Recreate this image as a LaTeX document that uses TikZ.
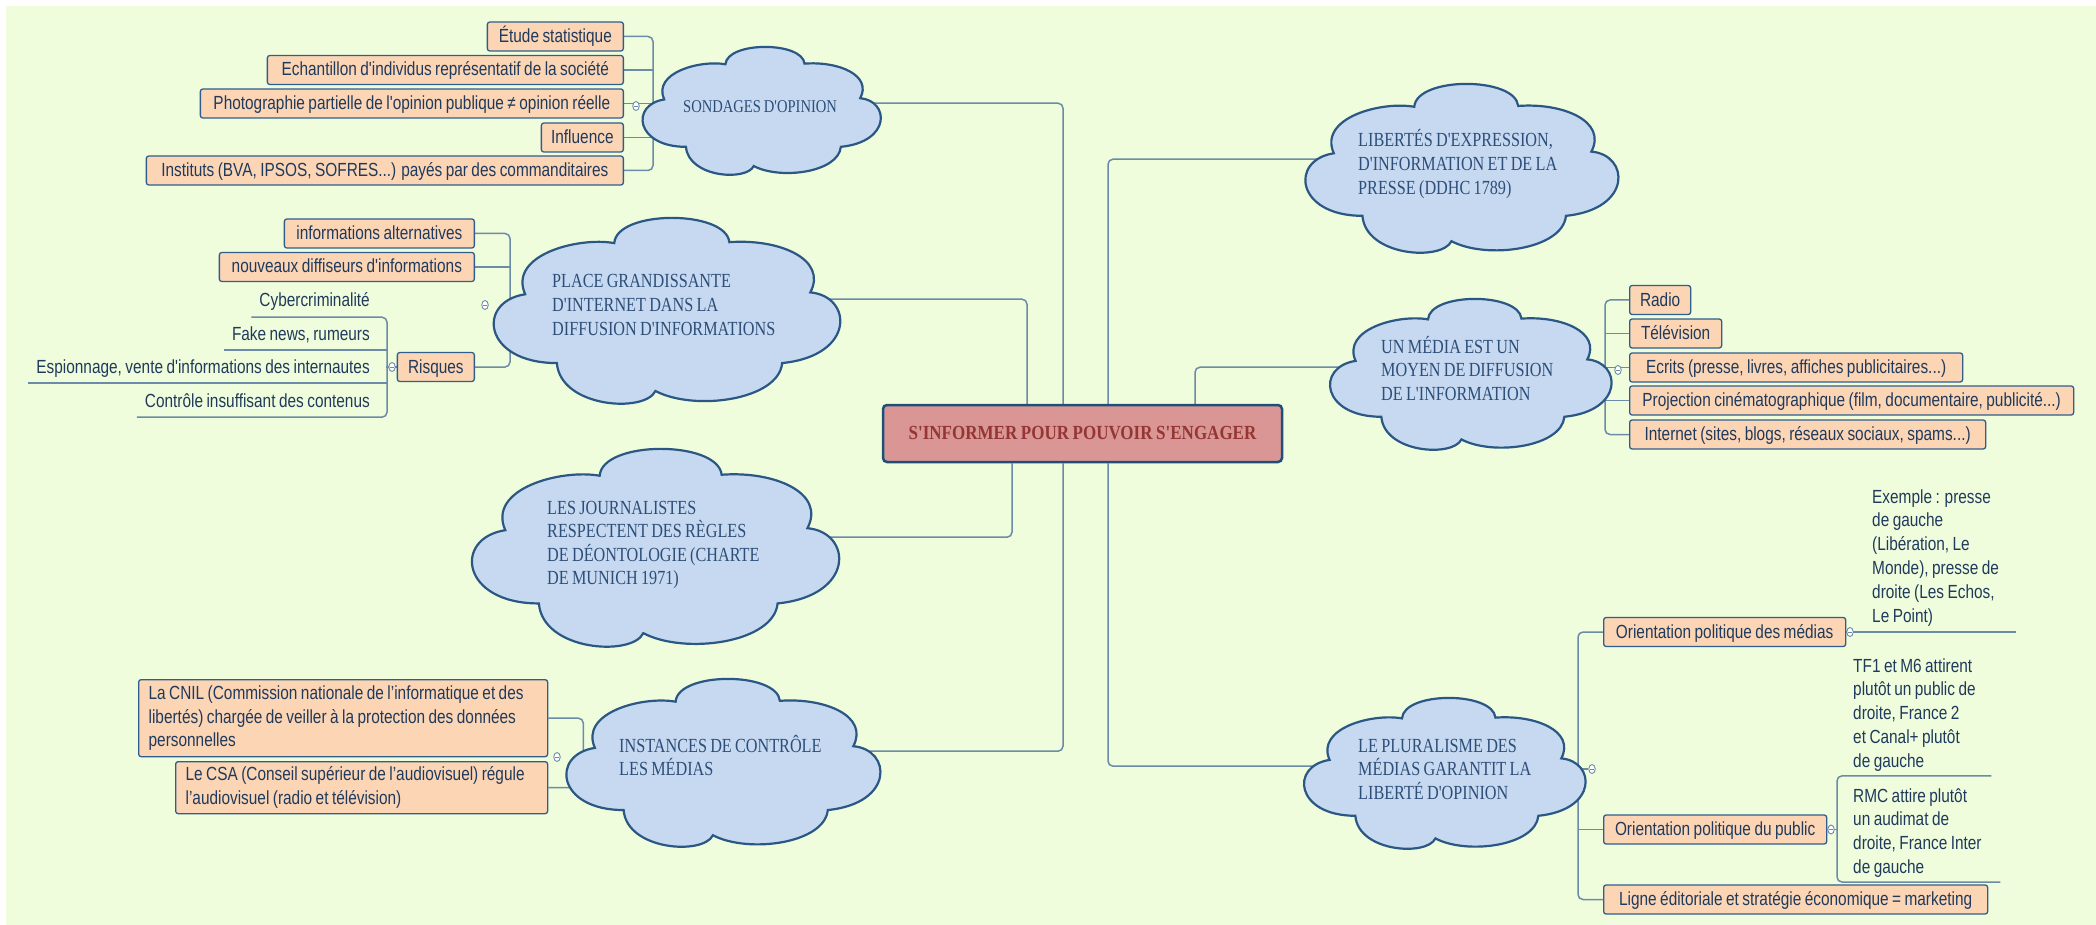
\documentclass[tikz,border=0pt]{standalone}
\usepackage{fontspec}
\usetikzlibrary{shapes.geometric,calc}
\newfontfamily\sansf[FakeStretch=0.81,WordSpace=0.81,Ligatures=TeXOff]{Liberation Sans}
\newfontfamily\serff[FakeStretch=0.81,WordSpace=0.81,Ligatures=TeXOff]{Liberation Serif}
\newfontfamily\serfc[FakeStretch=0.85,WordSpace=0.85,Ligatures=TeXOff]{Liberation Serif}
\pgfdeclarelayer{back}\pgfdeclarelayer{conn}\pgfdeclarelayer{cloudl}
\pgfsetlayers{back,conn,cloudl,main}
\definecolor{bgc}{HTML}{F0FDDC}
\definecolor{cloudfill}{HTML}{C6D9F1}
\definecolor{cloudline}{HTML}{2A5783}
\definecolor{leaffill}{HTML}{FCD5B5}
\definecolor{leafline}{HTML}{2F5E8C}
\definecolor{txt}{HTML}{1F3A5C}
\definecolor{ctxt}{HTML}{2D4E78}
\definecolor{mainfill}{HTML}{D99694}
\definecolor{mainline}{HTML}{1F4E79}
\definecolor{maintxt}{HTML}{943634}
\definecolor{connc}{HTML}{6B8BA8}
\tikzset{
 leaf/.style={rectangle, rounded corners=2.5pt, draw=leafline, line width=1.3pt, fill=leaffill, text=txt,
   font=\sansf\fontsize{19}{23.6}\selectfont, inner xsep=6pt, inner ysep=0pt, minimum height=29pt},
 leaf1/.style={leaf, text height=14pt, text depth=2pt},
 sub/.style={text=txt, font=\sansf\fontsize{19}{23.6}\selectfont, inner xsep=8pt, inner ysep=6pt, text height=14pt, text depth=4pt},
 note/.style={text=txt, font=\sansf\fontsize{19}{23.8}\selectfont, inner xsep=0pt, inner ysep=4.5pt, align=flush left},
 ctext/.style={text=ctxt, font=\serff\fontsize{20}{23.6}\selectfont, inner sep=0pt, align=flush left, text width=260pt},
 cbox/.style={rectangle, inner sep=0pt},
 cloudsty/.style={fill=cloudfill, draw=cloudline, line width=2.2pt},
 mainbox/.style={rectangle, rounded corners=4pt, fill=mainfill, draw=mainline, line width=2.5pt,
   minimum width=399pt, minimum height=57pt, text=maintxt, font=\serfc\bfseries\fontsize{20}{24}\selectfont},
 conn/.style={draw=connc, line width=1.5pt, rounded corners=5pt},
 coll/.style={ellipse, draw=connc, fill=white, line width=0.9pt, minimum width=6.5pt, minimum height=9pt, inner sep=0pt,
   path picture={\draw[connc, line width=0.7pt] ([xshift=-1.8pt]path picture bounding box.center) -- ([xshift=1.8pt]path picture bounding box.center);}}
}
\newcommand\mmcloud[5]{%
  \node[cbox, minimum width=#4pt, minimum height=#5pt, anchor=north west] (#1) at (#2,#3) {};
  \begin{pgfonlayer}{cloudl}
    \begin{scope}[shift={(#2,#3)}, xscale=#4, yscale=#5]
      \path[cloudsty] (0.353,0.135) .. controls (0.36,-0.045) and (0.67,-0.045) .. (0.68,0.13)
        .. controls (0.82,0.11) and (0.96,0.22) .. (0.91,0.40)
        .. controls (1.03,0.42) and (1.04,0.74) .. (0.83,0.78)
        .. controls (0.82,0.98) and (0.58,1.04) .. (0.47,0.93)
        .. controls (0.44,1.05) and (0.20,1.02) .. (0.19,0.78)
        .. controls (-0.02,0.78) and (-0.04,0.45) .. (0.10,0.41)
        .. controls (0.05,0.20) and (0.25,0.10) .. (0.353,0.135) -- cycle;
    \end{scope}
  \end{pgfonlayer}}
\begin{document}
\hyphenpenalty=10000 \exhyphenpenalty=10000
\begin{tikzpicture}[x=1pt,y=-1pt]
\useasboundingbox (0,0) rectangle (2096,925);
\begin{pgfonlayer}{back}
\fill[white] (0,0) rectangle (2096,925);
\fill[bgc] (6,6) rectangle (2096,925);
\end{pgfonlayer}

% clouds
\mmcloud{sondc}{640}{47}{242}{128}
\mmcloud{placec}{490}{218}{352}{186}
\mmcloud{journc}{468}{449}{373}{198}
\mmcloud{instc}{563}{679}{319}{168}
\mmcloud{libc}{1302}{84}{318}{169}
\mmcloud{mediac}{1327}{299}{286}{151}
\mmcloud{plurc}{1301}{698}{286}{151}

% central topic
\node[mainbox] (main) at (1082.5,433.5) {S'INFORMER POUR POUVOIR S'ENGAGER};

% cloud texts
\node[ctext, font=\serff\fontsize{18}{23.6}\selectfont, anchor=base west] (sondt) at (683,113) {SONDAGES D'OPINION};
\node[ctext, anchor=base west] (placet) at (552,288) {PLACE GRANDISSANTE\\D'INTERNET DANS LA\\DIFFUSION D'INFORMATIONS};
\node[ctext, anchor=base west] (journt) at (547,514) {LES JOURNALISTES\\RESPECTENT DES RÈGLES\\DE DÉONTOLOGIE (CHARTE\\DE MUNICH 1971)};
\node[ctext, anchor=base west] (instt) at (619,752) {INSTANCES DE CONTRÔLE\\LES MÉDIAS};
\node[ctext, anchor=base west] (libt) at (1358,147) {LIBERTÉS D'EXPRESSION,\\D'INFORMATION ET DE LA\\PRESSE (DDHC 1789)};
\node[ctext, anchor=base west] (mediat) at (1381,353) {UN MÉDIA EST UN\\MOYEN DE DIFFUSION\\DE L'INFORMATION};
\node[ctext, anchor=base west] (plurt) at (1358,752) {LE PLURALISME DES\\MÉDIAS GARANTIT LA\\LIBERTÉ D'OPINION};

% SONDAGES children
\node[leaf1, minimum width=136, anchor=east] (etude) at (624,36.5) {Étude statistique};
\node[leaf1, minimum width=356, anchor=east] (echant) at (624,70) {Echantillon d'individus représentatif de la société};
\node[leaf1, minimum width=423, anchor=east] (photo) at (624,103.5) {Photographie partielle de l'opinion publique ≠ opinion réelle};
\node[leaf1, minimum width=82, anchor=east] (influ) at (624,137.5) {Influence};
\node[leaf1, minimum width=477, anchor=east] (instit) at (624,170.5) {Instituts (BVA, IPSOS, SOFRES...) payés par des commanditaires};

% PLACE children
\node[leaf1, minimum width=190, anchor=east] (infalt) at (475,233.5) {informations alternatives};
\node[leaf1, minimum width=255, anchor=east] (nouv) at (475,267) {nouveaux diffiseurs d'informations};
\node[leaf1, minimum width=77, anchor=east] (risq) at (475,367) {Risques};
\node[sub, anchor=base east] (cyb) at (378,307) {Cybercriminalité};
\node[sub, anchor=base east] (fake) at (378,340) {Fake news, rumeurs};
\node[sub, anchor=base east] (esp) at (378,373) {Espionnage, vente d'informations des internautes};
\node[sub, anchor=base east] (cont) at (378,407) {Contrôle insuffisant des contenus};

% INSTANCES children
\node[leaf, text width=389, align=flush left, inner xsep=10pt, minimum height=77, anchor=north west] (cnil) at (138,679)
  {La CNIL (Commission nationale de l’informatique et des\\libertés) chargée de veiller à la protection des données\\personnelles};
\node[leaf, text width=352, align=flush left, inner xsep=10pt, minimum height=52, anchor=north west] (csa) at (175,761)
  {Le CSA (Conseil supérieur de l’audiovisuel) régule\\l’audiovisuel (radio et télévision)};

% MEDIA children
\node[leaf1, minimum width=61, anchor=west] (radio) at (1629,300) {Radio};
\node[leaf1, minimum width=92, anchor=west] (tele) at (1629,333.5) {Télévision};
\node[leaf1, minimum width=333, anchor=west] (ecrits) at (1629,367.5) {Ecrits (presse, livres, affiches publicitaires...)};
\node[leaf1, minimum width=444, anchor=west] (proj) at (1629,400.5) {Projection cinématographique (film, documentaire, publicité...)};
\node[leaf1, minimum width=356, anchor=west] (inter) at (1629,434.5) {Internet (sites, blogs, réseaux sociaux, spams...)};

% PLURALISME children
\node[leaf1, minimum width=242, anchor=west] (orm) at (1603,632) {Orientation politique des médias};
\node[leaf1, minimum width=223, anchor=west] (orp) at (1603,829.5) {Orientation politique du public};
\node[leaf1, minimum width=384, anchor=west] (ligne) at (1603,899.5) {Ligne éditoriale et stratégie économique = marketing};
\node[note, text width=144, anchor=base west] (exm) at (1872,503) {Exemple : presse\\de gauche\\(Libération, Le\\Monde), presse de\\droite (Les Echos,\\Le Point)};
\node[note, text width=138, anchor=base west] (tf1) at (1853,672) {TF1 et M6 attirent\\plutôt un public de\\droite, France 2\\et Canal+ plutôt\\de gauche};
\node[note, text width=147, anchor=base west] (rmc) at (1853,802) {RMC attire plutôt\\un audimat de\\droite, France Inter\\de gauche};

% collapse markers
\node[coll] (k1) at (636,106) {};
\node[coll] (k2) at (485,305) {};
\node[coll] (k3) at (392,367) {};
\node[coll] (k4) at (557,757) {};
\node[coll] (k5) at (1618,370) {};
\node[coll] (k6) at (1592,769) {};
\node[coll] (k7) at (1850,632) {};
\node[coll] (k8) at (1831,829.5) {};

\begin{pgfonlayer}{conn}
\draw[conn] ([yshift=8]sondc.center) -| ([xshift=-19.5]main.north);
\draw[conn] ([yshift=12]placec.center) -| ([xshift=-55.5]main.north);
\draw[conn] ([yshift=11]journc.center) -| ([xshift=-70.5]main.south);
\draw[conn] ([yshift=12]instc.center) -| ([xshift=-19.5]main.south);
\draw[conn] ([yshift=9.5]libc.center) -| ([xshift=25.5]main.north);
\draw[conn] ([yshift=7.5]mediac.center) -| ([xshift=112.5]main.north);
\draw[conn] ([yshift=7.5]plurc.center) -| ([xshift=25.5]main.south);

\draw[conn] (etude.east) -| ([xshift=29]instit.east) -- (instit.east);
\draw[conn] (echant.east) -- ++(29,0);
\draw[conn] (influ.east) -- ++(29,0);
\draw[conn] (photo.east) -- (sondc.center |- photo.east);

\draw[conn] (infalt.east) -| ([xshift=35]risq.east) -- (risq.east);
\draw[conn] (nouv.east) -- ++(35,0);
\draw[conn] (cyb.south west) -| ([xshift=9]cont.south east) -- (cont.south west);
\draw[conn] (fake.south west) -- ([xshift=9]fake.south east);
\draw[conn] (esp.south west) -- ([xshift=9]esp.south east);
\draw[conn] (risq.west) -- ++(-11,0);

\draw[conn] (cnil.east) -| ([xshift=35]csa.east) -- (csa.east);

\draw[conn] (radio.west) -| ([xshift=-24]inter.west) -- (inter.west);
\draw[conn] (tele.west) -- ++(-24,0);
\draw[conn] (proj.west) -- ++(-24,0);
\draw[conn] (ecrits.west) -- (mediac.center |- ecrits.west);

\draw[conn] (orm.west) -| ([xshift=-25]ligne.west) -- (ligne.west);
\draw[conn] (orp.west) -- ++(-25,0);
\draw[conn] (plurc.center |- k6) -- (k6);
\draw[conn] (orm.east) -- (orm.east -| exm.east);
\draw[conn] (tf1.south east) -| ([xshift=-16]rmc.south west) -- (rmc.south east);
\draw[conn] (orp.east) -- ++(11,0);
\end{pgfonlayer}
\end{tikzpicture}
\end{document}
